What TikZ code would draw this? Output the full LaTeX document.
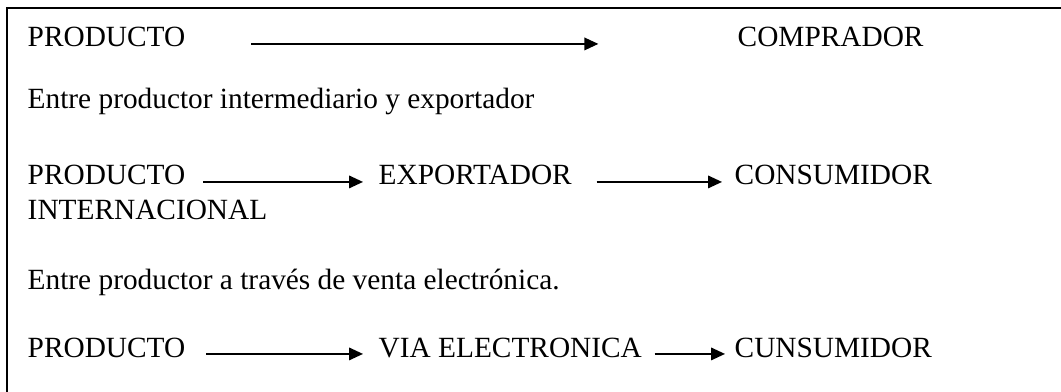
\documentclass[tikz,border=0pt]{standalone}
\usepackage{fontspec}
\setmainfont{Liberation Serif}
\usetikzlibrary{arrows.meta}

\begin{document}
\begin{tikzpicture}[x=0.75pt,y=0.75pt,line width=1.1pt,
	flecha/.style={-{Triangle[length=10.5pt,width=9.5pt]}},
	texto/.style={anchor=base west,inner sep=0pt,font=\fontsize{22}{26}\selectfont}]
	\useasboundingbox (0,0) rectangle (1061,-392);
	\draw[line width=1.3pt] (1061,-8) -- (7,-8) -- (7,-392);

	\node[texto]	(p1) at (27,-47)	{PRODUCTO};
	\node[texto]	(c1) at (737,-47)	{COMPRADOR};
	\node[texto]	(t2) at (27,-109)	{Entre productor intermediario y exportador};
	\node[texto]	(p3) at (27,-185)	{PRODUCTO};
	\node[texto]	(e3) at (378,-185)	{EXPORTADOR};
	\node[texto]	(k3) at (734,-185)	{CONSUMIDOR};
	\node[texto]	(i3) at (27,-220)	{INTERNACIONAL};
	\node[texto]	(t4) at (27,-290)	{Entre productor a través de venta electrónica.};
	\node[texto]	(p5) at (27,-357)	{PRODUCTO};
	\node[texto]	(v5) at (378,-357)	{VIA ELECTRONICA};
	\node[texto]	(k5) at (734,-357)	{CUNSUMIDOR};

	\draw[flecha,shorten <=48.75pt,shorten >=104pt]	(p1.mid east) -- (c1.mid west);
	\draw[flecha,shorten <=12.75pt,shorten >=11.25pt]	(p3.mid east) -- (e3.mid west);
	\draw[flecha,shorten <=18pt,shorten >=9pt]		(e3.mid east) -- (k3.mid west);
	\draw[flecha,shorten <=15pt,shorten >=11.25pt]	(p5.mid east) -- (v5.mid west);
	\draw[flecha,shorten <=9pt,shorten >=6.75pt]		(v5.mid east) -- (k5.mid west);
\end{tikzpicture}
\end{document}
